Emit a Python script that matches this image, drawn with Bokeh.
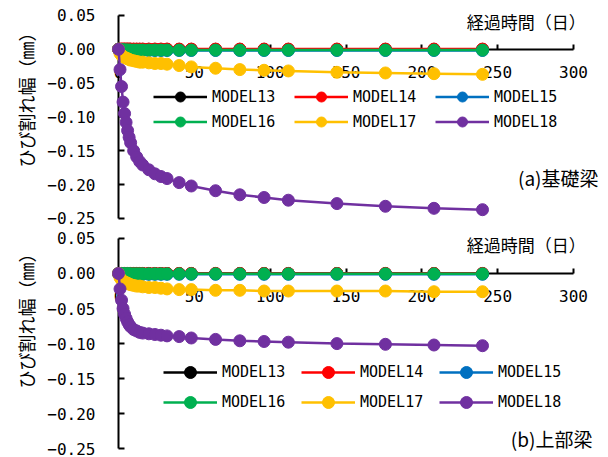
import math
from bokeh.plotting import figure
from bokeh.models import (LinearAxis, FixedTicker, Range1d, Legend, LegendItem,
                          Label, ColumnDataSource)
from bokeh.layouts import column
from bokeh.embed import file_html
from bokeh.resources import INLINE

# ---------------- data ----------------
days = [0, 1, 2, 3, 4, 5, 6, 7, 8, 10, 12, 14, 16, 20, 24, 28,
        32, 40, 48, 64, 80, 96, 112, 144, 176, 208, 240]

series_names = ["MODEL13", "MODEL14", "MODEL15", "MODEL16", "MODEL17", "MODEL18"]
series_colors = ["#000000", "#FF0000", "#0070C0", "#00B050", "#FFC000", "#7030A0"]

# (a) 基礎梁
a_model13 = [0, 0, 0, 0, 0, 0, 0, 0, 0, 0, 0, 0, 0, 0, 0, 0,
             0, 0, 0, 0, 0, 0, 0, 0, 0, 0, 0]
a_model14 = [0, 0.0002, 0.0003, 0.0003, 0.0003, 0.0003, 0.0003, 0.0003, 0.0003, 0.0003, 0.0003, 0.0003, 0.0003, 0.0003, 0.0003, 0.0003,
             0.0003, 0.0003, 0.0003, 0.0003, 0.0003, 0.0003, 0.0003, 0.0003, 0.0003, 0.0003, 0.0003]
a_model15 = [0, -0.0008, -0.0011, -0.0013, -0.0014, -0.0015, -0.0016, -0.0016, -0.0017, -0.0017, -0.0018, -0.0018, -0.0018, -0.0018, -0.0018, -0.0018,
             -0.0018, -0.0018, -0.0018, -0.0018, -0.0018, -0.0018, -0.0018, -0.0018, -0.0018, -0.0018, -0.0018]
a_model16 = [0, -0.0005, -0.0008, -0.0009, -0.001, -0.0011, -0.0011, -0.0012, -0.0012, -0.0012, -0.0012, -0.0012, -0.0012, -0.0012, -0.0012, -0.0012,
             -0.0012, -0.0012, -0.0012, -0.0012, -0.0012, -0.0012, -0.0012, -0.0012, -0.0012, -0.0012, -0.0012]
a_model17 = [0, -0.006, -0.009, -0.011, -0.012, -0.013, -0.014, -0.015, -0.016, -0.017, -0.018, -0.019, -0.019, -0.020, -0.021, -0.021,
             -0.022, -0.024, -0.026, -0.028, -0.030, -0.031, -0.032, -0.034, -0.035, -0.036, -0.037]
a_model18 = [0, -0.030, -0.055, -0.078, -0.095, -0.108, -0.120, -0.130, -0.138, -0.150, -0.159, -0.166, -0.171, -0.178, -0.184, -0.188,
             -0.191, -0.197, -0.202, -0.209, -0.215, -0.219, -0.223, -0.228, -0.232, -0.235, -0.237]

# (b) 上部梁
b_model13 = [0, 0, 0, 0, 0, 0, 0, 0, 0, 0, 0, 0, 0, 0, 0, 0,
             0, 0, 0, 0, 0, 0, 0, 0, 0, 0, 0]
b_model14 = [0, 0.0001, 0.0001, 0.0001, 0.0001, 0.0001, 0.0001, 0.0001, 0.0001, 0.0001, 0.0001, 0.0001, 0.0001, 0.0001, 0.0001, 0.0001,
             0.0001, 0.0001, 0.0001, 0.0001, 0.0001, 0.0001, 0.0001, 0.0001, 0.0001, 0.0001, 0.0001]
b_model15 = [0, -0.0006, -0.0009, -0.001, -0.0011, -0.0011, -0.0012, -0.0012, -0.0012, -0.0012, -0.0012, -0.0012, -0.0012, -0.0012, -0.0012, -0.0012,
             -0.0012, -0.0012, -0.0012, -0.0012, -0.0012, -0.0012, -0.0012, -0.0012, -0.0012, -0.0012, -0.0012]
b_model16 = [0, -0.0003, -0.0004, -0.0005, -0.0005, -0.0005, -0.0005, -0.0005, -0.0005, -0.0005, -0.0005, -0.0005, -0.0005, -0.0005, -0.0005, -0.0005,
             -0.0005, -0.0005, -0.0005, -0.0005, -0.0005, -0.0005, -0.0005, -0.0005, -0.0005, -0.0005, -0.0005]
b_model17 = [0, -0.006, -0.009, -0.011, -0.012, -0.013, -0.014, -0.015, -0.016, -0.017, -0.018, -0.018, -0.019, -0.020, -0.020, -0.021,
             -0.022, -0.023, -0.023, -0.024, -0.024, -0.025, -0.025, -0.025, -0.025, -0.026, -0.026]
b_model18 = [0, -0.022, -0.038, -0.050, -0.058, -0.064, -0.069, -0.073, -0.076, -0.080, -0.082, -0.084, -0.085, -0.086, -0.087, -0.088,
             -0.089, -0.090, -0.092, -0.094, -0.096, -0.097, -0.098, -0.100, -0.101, -0.102, -0.103]

x_ticks = [0, 50, 100, 150, 200, 250, 300]
x_tick_labels = ["0", "50", "100", "150", "200", "250", "300"]
y_ticks = [0.05, 0.0, -0.05, -0.10, -0.15, -0.20, -0.25]
y_tick_labels = ["0.05", "0.00", "\u22120.05", "\u22120.10", "\u22120.15", "\u22120.20", "\u22120.25"]

x_title = "経過時間（日）"
y_title = "ひび割れ幅（㎜）"
panel_titles = ["(a)基礎梁", "(b)上部梁"]

# ---------------- layout constants ----------------
W = 600
PX_PER_DAY = 455 / 300.0
X_START = -118 / PX_PER_DAY
X_END = 482 / PX_PER_DAY

MONO = "DejaVu Sans Mono"
JP = "Noto Sans CJK JP"


def make_chart(series, height, y_start, y_end, legend_loc, glyph_h, label_w,
               marker_size, title_text, title_pos, xt_pos, yt_pos):
    p = figure(width=W, height=height, output_backend="svg", toolbar_location=None,
               x_range=Range1d(X_START, X_END), y_range=Range1d(y_start, y_end),
               x_axis_type=None, y_axis_type=None, min_border=0)
    p.outline_line_color = None
    p.background_fill_color = "white"

    xaxis = LinearAxis(fixed_location=0, bounds=(0, 300),
                       ticker=FixedTicker(ticks=x_ticks),
                       major_label_overrides=dict(zip(x_ticks, x_tick_labels)))
    xaxis.major_tick_in = 5
    xaxis.major_tick_out = 0
    xaxis.minor_tick_in = 0
    xaxis.minor_tick_out = 0
    xaxis.axis_line_width = 2
    xaxis.major_tick_line_width = 2
    xaxis.major_label_standoff = 17
    xaxis.major_label_text_font = MONO
    xaxis.major_label_text_font_size = "16px"
    xaxis.major_label_text_color = "black"
    xaxis.level = "underlay"
    p.add_layout(xaxis, "below")

    yaxis = LinearAxis(fixed_location=0, bounds=(-0.25, 0.05),
                       ticker=FixedTicker(ticks=y_ticks),
                       major_label_overrides=dict(zip(y_ticks, y_tick_labels)))
    yaxis.major_tick_in = 6
    yaxis.major_tick_out = 0
    yaxis.minor_tick_in = 0
    yaxis.minor_tick_out = 0
    yaxis.axis_line_width = 2
    yaxis.major_tick_line_width = 2
    yaxis.major_label_standoff = 23
    yaxis.major_label_text_font = MONO
    yaxis.major_label_text_font_size = "16px"
    yaxis.major_label_text_color = "black"
    yaxis.level = "underlay"
    p.add_layout(yaxis, "left")

    items = []
    for name, color, vals in zip(series_names, series_colors, series):
        src = ColumnDataSource(dict(x=days, y=vals))
        r1 = p.line("x", "y", source=src, line_color=color, line_width=2.5)
        r2 = p.scatter("x", "y", source=src, size=marker_size, fill_color=color,
                       line_color=color)
        items.append(LegendItem(label=name, renderers=[r1, r2]))

    legend = Legend(items=items, ncols=3, orientation="horizontal", location=legend_loc)
    legend.glyph_width = 54
    legend.glyph_height = glyph_h
    legend.label_height = glyph_h
    legend.label_standoff = 5
    legend.label_width = label_w
    legend.spacing = 0
    legend.padding = 0
    legend.margin = 0
    legend.border_line_color = None
    legend.background_fill_alpha = 0
    legend.label_text_font = MONO
    legend.label_text_font_size = "15px"
    legend.label_text_color = "black"
    p.add_layout(legend)

    p.add_layout(Label(x=xt_pos[0], y=xt_pos[1], text=x_title, text_align="right",
                       text_baseline="middle", text_font=JP, text_font_size="17px",
                       text_color="black"))
    p.add_layout(Label(x=title_pos[0], y=title_pos[1], text=title_text, text_align="right",
                       text_baseline="middle", text_font=JP, text_font_size="19px",
                       text_color="black"))
    p.add_layout(Label(x=yt_pos[0], y=yt_pos[1], text=y_title, angle=math.pi / 2,
                       text_align="center", text_baseline="middle", text_font=JP,
                       text_font_size="18px", text_color="black"))
    return p


top = make_chart([a_model13, a_model14, a_model15, a_model16, a_model17, a_model18],
                 230, -0.26777, 0.07211, (153, 96), 25, 82, 12, panel_titles[0],
                 (316.5, -0.1895), (308, 0.041), (-61.3, -0.0683))
bottom = make_chart([b_model13, b_model14, b_model15, b_model16, b_model17, b_model18],
                    227, -0.26248, 0.06134, (163, 40), 30, 79, 12, panel_titles[1],
                    (312.5, -0.2354), (308, 0.0414), (-61.3, -0.0613))

layout = column(top, bottom, spacing=0)
open("out.html", "w").write(file_html(layout, INLINE))
